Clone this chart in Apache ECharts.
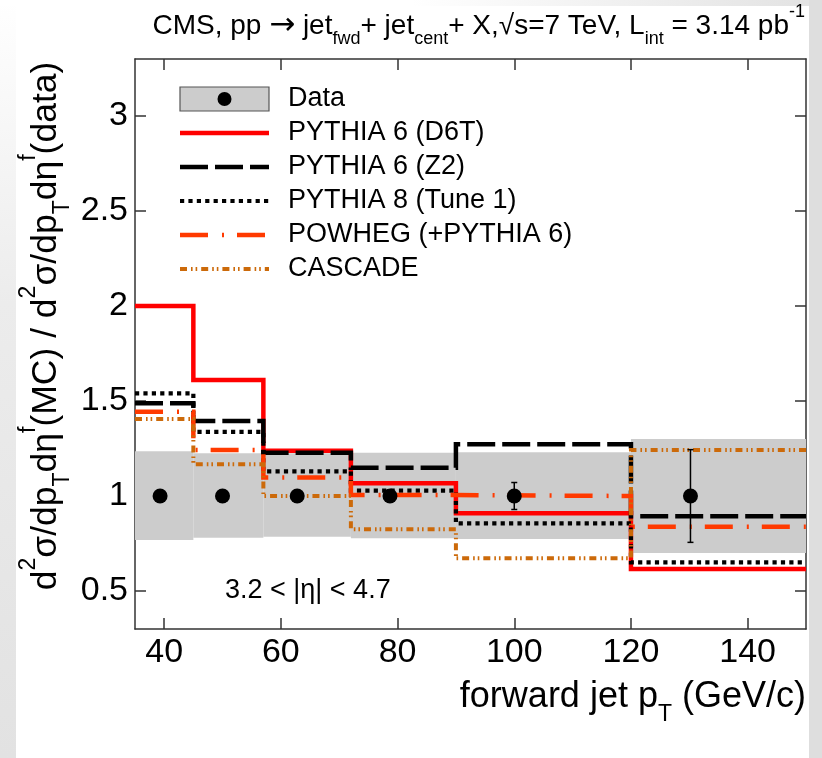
<!DOCTYPE html>
<html>
<head>
<meta charset="utf-8">
<script src="https://cdn.jsdelivr.net/npm/echarts@6/dist/echarts.min.js"></script>
<style>
html,body{margin:0;padding:0;}
body{width:822px;height:758px;position:relative;overflow:hidden;background:#fff;}
#bgL{position:absolute;left:0;top:0;width:16px;height:758px;background:linear-gradient(to bottom,#ffffff 0%,#ececec 40%,#e2e2e2 100%);}
#bgT{position:absolute;left:0;top:0;width:822px;height:6px;background:linear-gradient(to right,#ffffff 0%,#ffffff 50%,#e2e2e2 100%);}
#bgR{position:absolute;right:0;top:0;width:13px;height:758px;background:#dedede;}
#chart{position:absolute;left:0;top:0;width:822px;height:758px;}
</style>
</head>
<body>
<div id="bgL"></div><div id="bgT"></div><div id="bgR"></div>
<div id="chart"></div>
<script>
// ---- data ----
const binEdges = [35, 45, 57, 72, 90, 120, 150];
const dataX = [39.3, 50, 62.8, 78.7, 100, 130.2];
const dataY = [1, 1, 1, 1, 1, 1];
const statErr = [0.01, 0.01, 0.015, 0.02, 0.071, 0.244];
const sysLow = [0.768, 0.78, 0.786, 0.777, 0.774, 0.70];
const sysHigh = [1.235, 1.225, 1.225, 1.228, 1.23, 1.30];
const pythia6D6T = [2.0, 1.61, 1.238, 1.067, 0.909, 0.616];
const pythia6Z2 = [1.488, 1.395, 1.228, 1.149, 1.272, 0.893];
const pythia8T1 = [1.54, 1.338, 1.13, 1.028, 0.856, 0.651];
const powheg = [1.444, 1.242, 1.098, 1.005, 1.0, 0.838];
const cascade = [1.405, 1.167, 1.0, 0.825, 0.672, 1.242];
const xTicks = [40, 60, 80, 100, 120, 140];
const yTicks = [0.5, 1, 1.5, 2, 2.5, 3];
const seriesNames = ['Data', 'PYTHIA 6 (D6T)', 'PYTHIA 6 (Z2)', 'PYTHIA 8 (Tune 1)', 'POWHEG (+PYTHIA 6)', 'CASCADE'];

const FONT = '"Liberation Sans", Arial, Helvetica, sans-serif';
const chart = echarts.init(document.getElementById('chart'), null, {renderer: 'canvas'});

function stepData(vals) {
  const d = vals.map((v, i) => [binEdges[i], v]);
  d.push([binEdges[binEdges.length - 1], vals[vals.length - 1]]);
  return d;
}

const models = [
  {name: seriesNames[1], vals: pythia6D6T, color: '#ff0000', width: 4.5, type: 'solid'},
  {name: seriesNames[2], vals: pythia6Z2, color: '#000000', width: 4.5, type: [28, 7]},
  {name: seriesNames[3], vals: pythia8T1, color: '#000000', width: 4.2, type: [4.2, 4.2]},
  {name: seriesNames[4], vals: powheg, color: '#ff3a00', width: 4.5, type: [28, 14, 2, 13]},
  {name: seriesNames[5], vals: cascade, color: '#cc6a0a', width: 4, type: [7, 4, 1.6, 3, 1.6, 4]}
];

const axisLineStyle = {color: '#333', width: 1.5};
const tickStyle = {color: '#333', width: 1.5};

const series = [];
series.push({
  type: 'custom', name: 'sys', z: 1, silent: true,
  data: sysLow.map((lo, i) => [binEdges[i], binEdges[i + 1], lo, sysHigh[i]]),
  renderItem: function (params, api) {
    const p1 = api.coord([api.value(0), api.value(3)]);
    const p2 = api.coord([api.value(1), api.value(2)]);
    return {type: 'rect', shape: {x: p1[0], y: p1[1], width: p2[0] - p1[0], height: p2[1] - p1[1]},
      style: {fill: '#cccccc'}};
  }
});
models.forEach((m, k) => {
  series.push({
    type: 'line', name: m.name, step: 'end', symbol: 'none', z: 2 + k * 0.1,
    data: stepData(m.vals),
    lineStyle: {color: m.color, width: m.width, type: m.type, cap: 'butt', join: 'miter'},
    animation: false
  });
});
series.push({
  type: 'custom', name: 'err', z: 8, silent: true,
  data: dataX.map((x, i) => [x, dataY[i] - statErr[i], dataY[i] + statErr[i]]),
  renderItem: function (params, api) {
    const lo = api.coord([api.value(0), api.value(1)]);
    const hi = api.coord([api.value(0), api.value(2)]);
    const w = 3;
    return {type: 'group', children: [
      {type: 'line', shape: {x1: lo[0], y1: lo[1], x2: hi[0], y2: hi[1]}, style: {stroke: '#000', lineWidth: 1.5}},
      {type: 'line', shape: {x1: lo[0] - w, y1: lo[1], x2: lo[0] + w, y2: lo[1]}, style: {stroke: '#000', lineWidth: 1.5}},
      {type: 'line', shape: {x1: hi[0] - w, y1: hi[1], x2: hi[0] + w, y2: hi[1]}, style: {stroke: '#000', lineWidth: 1.5}}
    ]};
  }
});
series.push({
  type: 'scatter', name: seriesNames[0], z: 9, symbol: 'circle', symbolSize: 15,
  itemStyle: {color: '#000', opacity: 1},
  data: dataX.map((x, i) => [x, dataY[i]])
});

// legend graphics
const legX1 = 180, legX2 = 269, legTextX = 288;
const legY = [99, 133, 167, 201, 235, 269];
const graphics = [];
graphics.push({type: 'rect', shape: {x: legX1, y: 87, width: legX2 - legX1, height: 24},
  style: {fill: '#cccccc', stroke: '#555', lineWidth: 1.2}, z: 100});
graphics.push({type: 'circle', shape: {cx: (legX1 + legX2) / 2, cy: legY[0], r: 7}, style: {fill: '#000'}, z: 101});
models.forEach((m, k) => {
  graphics.push({type: 'line', shape: {x1: legX1, y1: legY[k + 1], x2: legX2, y2: legY[k + 1]},
    style: {stroke: m.color, lineWidth: m.width, lineDash: m.type === 'solid' ? null : m.type, lineCap: 'butt'}, z: 100});
});
seriesNames.forEach((n, k) => {
  graphics.push({type: 'text', x: legTextX, y: legY[k], z: 100,
    style: {text: n, font: '27px ' + FONT, fill: '#000', textAlign: 'left', textVerticalAlign: 'middle'}});
});

const richBase = (fs, fam) => ({
  m: {fontSize: fs, fontFamily: fam, color: '#000', lineHeight: Math.round(fs * 1.6), verticalAlign: 'middle'},
  a: {fontSize: Math.round(fs * 1.1), fontFamily: '"DejaVu Sans", sans-serif', color: '#000', lineHeight: Math.round(fs * 1.6), verticalAlign: 'middle'},
  s: {fontSize: Math.round(fs * 0.64), fontFamily: fam, color: '#000', lineHeight: Math.round(fs * 0.64), verticalAlign: 'bottom'},
  p: {fontSize: Math.round(fs * 0.64), fontFamily: fam, color: '#000', lineHeight: Math.round(fs * 0.64), verticalAlign: 'top'}
});

// title
graphics.push({type: 'text', x: 805, y: 26, z: 100,
  style: {text: '{m|CMS, pp }{a|→}{m| jet}{s|fwd}{m|+ jet}{s|cent}{m|+ X,√s=7 TeV, L}{s|int}{m| = 3.14 pb}{p|-1}',
    rich: richBase(28, FONT), textAlign: 'right', textVerticalAlign: 'middle'}});
// y title
graphics.push({type: 'text', x: 46, y: 326, rotation: Math.PI / 2, z: 100,
  style: {text: '{m|d}{p|2}{m|σ/dp}{s|T}{m|dη}{p|f}{m|(MC) / d}{p|2}{m|σ/dp}{s|T}{m|dη}{p|f}{m|(data)}',
    rich: richBase(35.5, FONT), textAlign: 'center', textVerticalAlign: 'middle'}});
// x title
graphics.push({type: 'text', x: 806, y: 697, z: 100,
  style: {text: '{m|forward jet p}{s|T}{m| (GeV/c)}', rich: richBase(36, FONT), textAlign: 'right', textVerticalAlign: 'middle'}});
// eta label
graphics.push({type: 'text', x: 225, y: 591, z: 100,
  style: {text: '3.2 < |η| < 4.7', font: '27px ' + FONT, fill: '#000', textAlign: 'left', textVerticalAlign: 'middle'}});

chart.setOption({
  animation: false,
  backgroundColor: 'transparent',
  grid: {left: 135, right: 16, top: 59, bottom: 129, containLabel: false},
  xAxis: [
    {type: 'value', min: 35, max: 150, position: 'bottom',
      axisLine: {show: true, onZero: false, lineStyle: axisLineStyle},
      axisTick: {show: true, inside: true, length: 11, lineStyle: tickStyle, customValues: xTicks},
      axisLabel: {show: true, customValues: xTicks, fontSize: 34, fontFamily: FONT, color: '#000', margin: 7},
      splitLine: {show: false}},
    {type: 'value', min: 35, max: 150, position: 'top',
      axisLine: {show: true, onZero: false, lineStyle: axisLineStyle},
      axisTick: {show: true, inside: true, length: 11, lineStyle: tickStyle, customValues: xTicks},
      axisLabel: {show: false}, splitLine: {show: false}}
  ],
  yAxis: [
    {type: 'value', min: 0.3, max: 3.3, position: 'left',
      axisLine: {show: true, onZero: false, lineStyle: axisLineStyle},
      axisTick: {show: true, inside: true, length: 11, lineStyle: tickStyle, customValues: yTicks},
      axisLabel: {show: true, customValues: yTicks, fontSize: 34, fontFamily: FONT, color: '#000', margin: 7},
      splitLine: {show: false}},
    {type: 'value', min: 0.3, max: 3.3, position: 'right',
      axisLine: {show: true, onZero: false, lineStyle: axisLineStyle},
      axisTick: {show: true, inside: true, length: 11, lineStyle: tickStyle, customValues: yTicks},
      axisLabel: {show: false}, splitLine: {show: false}}
  ],
  series: series,
  graphic: graphics
});
</script>
</body>
</html>
